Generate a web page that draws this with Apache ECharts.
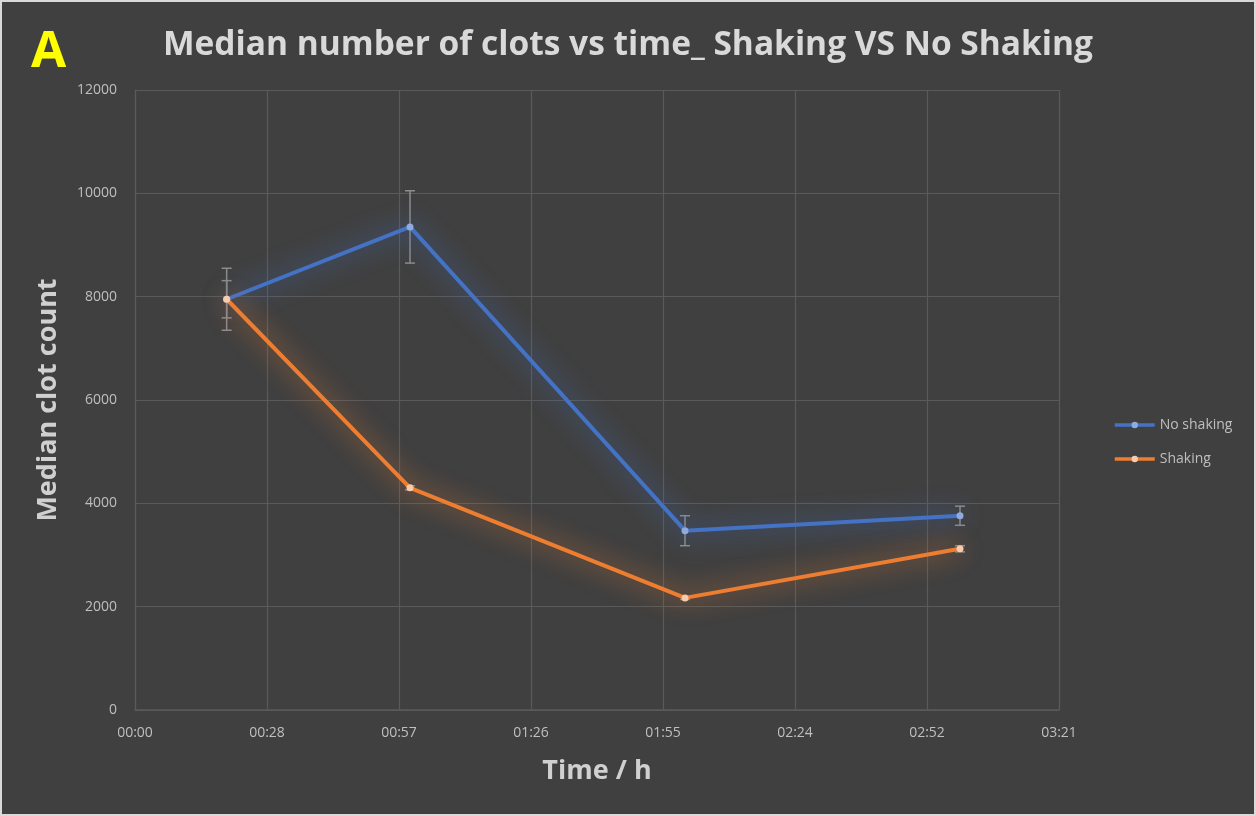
<!DOCTYPE html>
<html>
<head>
<meta charset="utf-8">
<script src="https://cdn.jsdelivr.net/npm/echarts@6/dist/echarts.min.js"></script>
<style>
html,body{margin:0;padding:0;background:#404040;}
#c{width:1256px;height:816px;}
</style>
</head>
<body>
<div id="c"></div>
<script>
// Data (time in minutes)
const times = [20, 60, 120, 180];
const noShaking = [7950, 9350, 3470, 3760];
const noShakingErr = [600, 700, 290, 185];
const shaking = [7950, 4300, 2170, 3120];
const shakingErr = [360, 40, 30, 60];
const xTickLabels = ['00:00','00:28','00:57','01:26','01:55','02:24','02:52','03:21'];
const yTickLabels = ['0','2000','4000','6000','8000','10000','12000'];

const chart = echarts.init(document.getElementById('c'));
const font = '"Open Sans", "Liberation Sans", sans-serif';

function errSeries(name, vals, errs, z) {
  return {
    type: 'custom',
    name: name + ' err',
    z: z,
    silent: true,
    data: times.map((t, i) => [t, vals[i] - errs[i], vals[i] + errs[i]]),
    renderItem: function (params, api) {
      const lo = api.coord([api.value(0), api.value(1)]);
      const hi = api.coord([api.value(0), api.value(2)]);
      const w = 5;
      const st = {stroke: '#8c8c8c', lineWidth: 1.5};
      return {
        type: 'group',
        children: [
          {type: 'line', shape: {x1: lo[0], y1: lo[1], x2: hi[0], y2: hi[1]}, style: st},
          {type: 'line', shape: {x1: lo[0]-w, y1: lo[1], x2: lo[0]+w, y2: lo[1]}, style: st},
          {type: 'line', shape: {x1: hi[0]-w, y1: hi[1], x2: hi[0]+w, y2: hi[1]}, style: st}
        ]
      };
    }
  };
}

chart.setOption({
  backgroundColor: '#404040',
  animation: false,
  textStyle: {fontFamily: font},
  graphic: [
    {type: 'rect', shape: {x: 1, y: 1, width: 1254, height: 814}, style: {fill: 'none', stroke: '#d9d9d9', lineWidth: 2}, z: 100},
    {type: 'text', left: 31, top: 27, style: {text: 'A', fill: '#ffff00', font: 'bold 51px ' + font}},
    {type: 'text', left: 'center', top: 28, style: {text: 'Median number of clots vs time_ Shaking VS No Shaking', fill: '#d9d9d9', font: 'bold 33.5px ' + font}}
  ],
  grid: {left: 135, right: 197, top: 90, bottom: 106},
  legend: {
    left: 1108, top: 413, orient: 'vertical', itemGap: 20, itemWidth: 40, itemHeight: 8,
    textStyle: {color: '#bfbfbf', fontSize: 14, fontFamily: font},
    lineStyle: {width: 3.5},
    data: ['No shaking', 'Shaking']
  },
  xAxis: {
    type: 'value', min: 0, max: 201.6, interval: 28.8,
    name: 'Time / h', nameLocation: 'middle', nameGap: 48,
    nameTextStyle: {color: '#d0d0d0', fontSize: 27, fontWeight: 'bold', fontFamily: font},
    axisLine: {show: true, lineStyle: {color: '#5a5a5a', width: 1.5}},
    axisTick: {show: false},
    axisLabel: {color: '#bfbfbf', fontSize: 14, margin: 16,
      formatter: v => xTickLabels[Math.round(v / 28.8)]},
    splitLine: {show: true, lineStyle: {color: '#5a5a5a', width: 1.2}}
  },
  yAxis: {
    type: 'value', min: 0, max: 12000, interval: 2000,
    name: 'Median clot count', nameLocation: 'middle', nameGap: 73, nameRotate: 90,
    nameTextStyle: {color: '#d0d0d0', fontSize: 27, fontWeight: 'bold', fontFamily: font},
    axisLine: {show: true, lineStyle: {color: '#5a5a5a', width: 1.2}},
    axisTick: {show: false},
    axisLabel: {color: '#bfbfbf', fontSize: 14, margin: 18,
      formatter: v => yTickLabels[Math.round(v / 2000)]},
    splitLine: {show: true, lineStyle: {color: '#5a5a5a', width: 1.2}}
  },
  series: [
    errSeries('No shaking', noShaking, noShakingErr, 1),
    errSeries('Shaking', shaking, shakingErr, 1),
    {
      name: 'No shaking', type: 'line', z: 3,
      data: times.map((t, i) => [t, noShaking[i]]),
      symbol: 'circle', symbolSize: 7,
      itemStyle: {color: '#8faadc', borderWidth: 0},
      lineStyle: {color: '#4472c4', width: 4, shadowColor: 'rgba(68,114,196,1)', shadowBlur: 24}
    },
    {
      name: 'Shaking', type: 'line', z: 4,
      data: times.map((t, i) => [t, shaking[i]]),
      symbol: 'circle', symbolSize: 7,
      itemStyle: {color: '#f8cbad', borderWidth: 0},
      lineStyle: {color: '#ed7d31', width: 4, shadowColor: 'rgba(237,125,49,1)', shadowBlur: 24}
    }
  ]
});
</script>
</body>
</html>
